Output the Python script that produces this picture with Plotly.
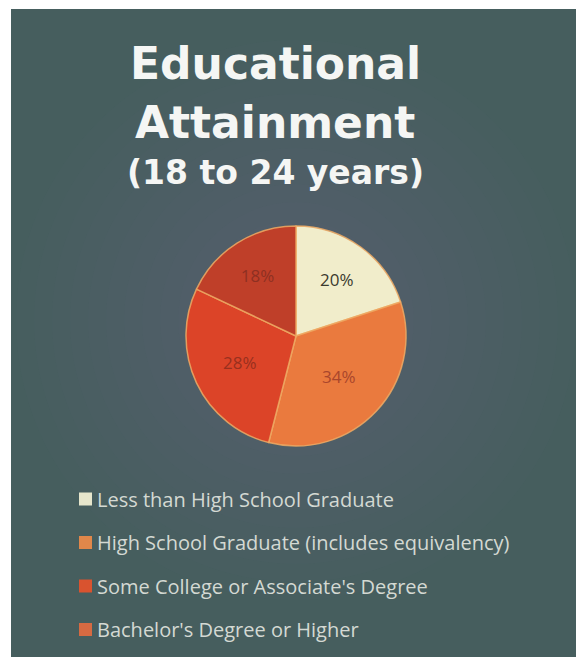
import plotly.graph_objects as go

# Educational attainment, population aged 18 to 24
categories = [
    "Less than High School Graduate",
    "High School Graduate (includes equivalency)",
    "Some College or Associate's Degree",
    "Bachelor's Degree or Higher",
]
shares = [20, 34, 28, 18]
slice_colors = ["#f1edcb", "#ea7a3e", "#dc4428", "#bf3f29"]
legend_colors = ["#e6e6cc", "#e0874a", "#d9532f", "#d66a42"]
label_colors = ["#3b3a2e", "#a9462c", "#98301e", "#8e3022"]
title_lines = ["Educational", "Attainment", "(18 to 24 years)"]

W, H = 578, 657

fig = go.Figure()

fig.add_trace(go.Pie(
    labels=categories,
    values=shares,
    sort=False,
    direction="clockwise",
    rotation=0,
    marker=dict(colors=slice_colors,
                line=dict(color="rgba(238,170,100,0.85)", width=1.5)),
    texttemplate="%{value}%",
    textposition="inside",
    insidetextorientation="horizontal",
    insidetextfont=dict(family="Open Sans", size=17, color=label_colors),
    hovertemplate="%{label}: %{value}%<extra></extra>",
    showlegend=False,
    domain=dict(x=[186 / W, 406 / W], y=[(H - 446) / H, (H - 226) / H]),
))

shapes = [
    # dark slate panel
    dict(type="rect", xref="paper", yref="paper",
         x0=11 / W, x1=576 / W, y0=0, y1=(H - 9) / H,
         fillcolor="#465e5e", line=dict(width=0), layer="below"),
]
# soft bluish glow behind the pie, built from many faint discs
cx, cy = 296, 320
for k in range(14):
    r = 280 - k * 18
    shapes.append(dict(type="circle", xref="paper", yref="paper",
                       x0=(cx - r) / W, x1=(cx + r) / W,
                       y0=(H - cy - r) / H, y1=(H - cy + r) / H,
                       fillcolor="rgba(112,118,150,0.022)",
                       line=dict(width=0), layer="below"))

annotations = []
title_y = [63, 122, 172]
title_sizes = [44, 44, 33]
for text, y, s in zip(title_lines, title_y, title_sizes):
    annotations.append(dict(
        text=f"<b>{text}</b>", x=275 / W, y=(H - y) / H,
        xref="paper", yref="paper", xanchor="center", yanchor="middle",
        showarrow=False,
        font=dict(family="DejaVu Sans", size=s, color="#f5f6f4")))

# legend drawn as square swatches with labels
leg_y0, leg_dy = 499, 43.5
for i, (name, col) in enumerate(zip(categories, legend_colors)):
    yc = leg_y0 + i * leg_dy
    shapes.append(dict(type="rect", xref="paper", yref="paper",
                       x0=79 / W, x1=92 / W,
                       y0=(H - yc - 6.5) / H, y1=(H - yc + 6.5) / H,
                       fillcolor=col, line=dict(width=0)))
    annotations.append(dict(
        text=name, x=95 / W, y=(H - yc) / H,
        xref="paper", yref="paper", xanchor="left", yanchor="middle",
        showarrow=False,
        font=dict(family="Open Sans", size=20, color="#d4d9d3")))

fig.update_layout(
    width=W, height=H,
    margin=dict(l=0, r=0, t=0, b=0),
    paper_bgcolor="#ffffff",
    plot_bgcolor="rgba(0,0,0,0)",
    shapes=shapes,
    annotations=annotations,
)

fig.write_html("out.html")
